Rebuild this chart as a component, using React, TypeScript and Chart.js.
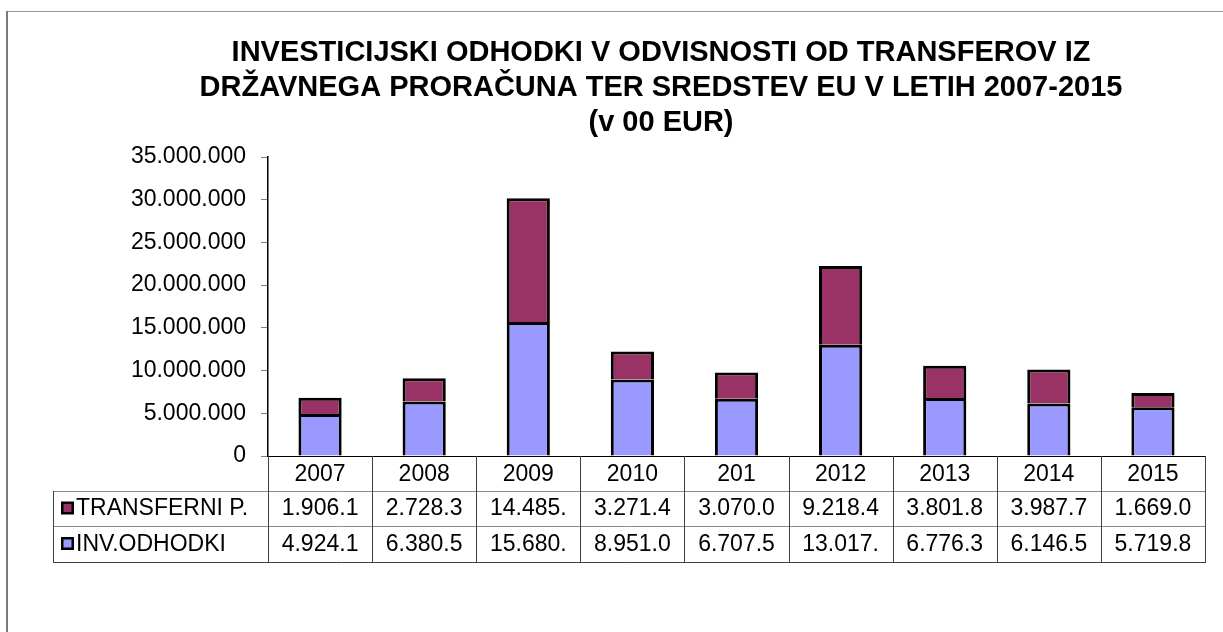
import React, { useEffect, useRef } from "react";
import { Chart, registerables } from "chart.js";

Chart.register(...registerables);

const titleLines = [
  "INVESTICIJSKI ODHODKI V ODVISNOSTI OD TRANSFEROV IZ",
  "DRŽAVNEGA PRORAČUNA TER SREDSTEV EU V LETIH 2007-2015",
  "(v 00 EUR)",
];
const categories = ["2007", "2008", "2009", "2010", "201", "2012", "2013", "2014", "2015"];
const invOdhodki = [4924100, 6380500, 15680000, 8951000, 6707500, 13017000, 6776300, 6146500, 5719800];
const transferni = [1906100, 2728300, 14485000, 3271400, 3070000, 9218400, 3801800, 3987700, 1669000];
const seriesNames = ["INV.ODHODKI", "TRANSFERNI P."];
const seriesColors = ["#9999FF", "#993366"];
const yMax = 35000000;
const yStep = 5000000;

const FONT = "'Liberation Sans', Arial, sans-serif";

function fmt(v: number): string {
  return Math.round(v).toString().replace(/\B(?=(\d{3})+(?!\d))/g, ".");
}
function cellText(v: number): string {
  return fmt(v).slice(0, 7);
}

const framePlugin = {
  id: "frame",
  beforeDraw(chart: any) {
    const { ctx, width, height } = chart;
    ctx.save();
    ctx.fillStyle = "#ffffff";
    ctx.fillRect(0, 0, width, height);
    ctx.fillStyle = "#999999";
    ctx.fillRect(6, 11, width, 1);
    ctx.fillStyle = "#7a7a7a";
    ctx.fillRect(6, 11, 2, height);
    ctx.restore();
  },
  afterDraw(chart: any) {
    const { ctx, chartArea } = chart;
    const { left, right, bottom } = chartArea;
    const xs = chart.scales.x;
    const n = categories.length;
    const colW = (right - left) / n;
    const y1 = bottom + 34.5;
    const y2 = y1 + 35;
    const y3 = y2 + 36;
    const tableLeft = 53.5;

    ctx.save();
    // title
    ctx.fillStyle = "#000";
    ctx.font = `bold 29px ${FONT}`;
    ctx.textAlign = "center";
    ctx.textBaseline = "middle";
    titleLines.forEach((t, i) => ctx.fillText(t, 661, 53 + i * 35));

    // table lines
    ctx.lineWidth = 1;
    ctx.strokeStyle = "#8c8c8c";
    ctx.beginPath();
    ctx.moveTo(tableLeft, Math.round(y1) + 0.5);
    ctx.lineTo(right, Math.round(y1) + 0.5);
    ctx.moveTo(tableLeft, Math.round(y2) + 0.5);
    ctx.lineTo(right, Math.round(y2) + 0.5);
    ctx.stroke();
    ctx.strokeStyle = "#404040";
    ctx.beginPath();
    ctx.moveTo(tableLeft, Math.round(y3) + 0.5);
    ctx.lineTo(right, Math.round(y3) + 0.5);
    ctx.moveTo(tableLeft, Math.round(y1));
    ctx.lineTo(tableLeft, Math.round(y3) + 1);
    for (let i = 0; i <= n; i++) {
      const x = Math.round(left + i * colW) + 0.5;
      ctx.moveTo(x, bottom);
      ctx.lineTo(x, Math.round(y3) + 1);
    }
    ctx.stroke();

    // texts
    ctx.fillStyle = "#000";
    ctx.font = `23px ${FONT}`;
    ctx.textAlign = "center";
    ctx.textBaseline = "middle";
    const rows = [
      { vals: transferni, ymid: (y1 + y2) / 2 },
      { vals: invOdhodki, ymid: (y2 + y3) / 2 },
    ];
    for (let i = 0; i < n; i++) {
      const cx = xs.getPixelForValue(i);
      ctx.fillText(categories[i], cx, (bottom + y1) / 2 + 1);
      rows.forEach((r) => ctx.fillText(cellText(r.vals[i]), cx, r.ymid + 1));
    }
    // legend keys in table
    const keys = [
      { name: seriesNames[1], color: seriesColors[1], ymid: (y1 + y2) / 2 },
      { name: seriesNames[0], color: seriesColors[0], ymid: (y2 + y3) / 2 },
    ];
    keys.forEach((k) => {
      ctx.fillStyle = "#000";
      ctx.fillRect(61, k.ymid - 6.5, 13, 13);
      ctx.fillStyle = k.color;
      ctx.fillRect(63.5, k.ymid - 4, 8, 8);
      ctx.fillStyle = "#000";
      ctx.textAlign = "left";
      ctx.font = `23px ${FONT}`;
      ctx.fillText(k.name, 76, k.ymid + 1);
    });
    ctx.restore();
  },
};

export default function App() {
  const ref = useRef<HTMLCanvasElement | null>(null);
  useEffect(() => {
    if (!ref.current) return;
    const chart = new Chart(ref.current, {
      type: "bar",
      data: {
        labels: categories,
        datasets: [
          {
            label: seriesNames[0],
            data: invOdhodki,
            backgroundColor: seriesColors[0],
            borderColor: "#000",
            borderWidth: 3,
          },
          {
            label: seriesNames[1],
            data: transferni,
            backgroundColor: seriesColors[1],
            borderColor: "#000",
            borderWidth: 3,
          },
        ],
      },
      options: {
        animation: false,
        responsive: false,
        events: [],
        datasets: { bar: { categoryPercentage: 0.415, barPercentage: 1 } },
        layout: { padding: { top: 157, right: 18, left: 0, bottom: 0 } },
        plugins: { legend: { display: false }, title: { display: false }, tooltip: { enabled: false } },
        scales: {
          x: {
            stacked: true,
            grid: { display: false },
            ticks: { display: false },
            border: { display: true, color: "#000", width: 1 },
            afterFit: (s: any) => {
              s.height = 176;
            },
          },
          y: {
            stacked: true,
            min: 0,
            max: yMax,
            ticks: {
              stepSize: yStep,
              padding: 15,
              color: "#000",
              font: { family: FONT, size: 23 },
              callback: (v: any) => fmt(Number(v)),
            },
            grid: { drawOnChartArea: false, drawTicks: true, tickLength: 7, color: "#808080" },
            border: { display: true, color: "#000", width: 1.5 },
            afterFit: (s: any) => {
              s.width = 268;
            },
          },
        },
      },
      plugins: [framePlugin],
    });
    return () => chart.destroy();
  }, []);
  return (
    <div style={{ position: "absolute", left: 0, top: 0, width: 1223, height: 632, background: "#fff" }}>
      <canvas ref={ref} width={1223} height={632} style={{ display: "block" }} />
    </div>
  );
}
